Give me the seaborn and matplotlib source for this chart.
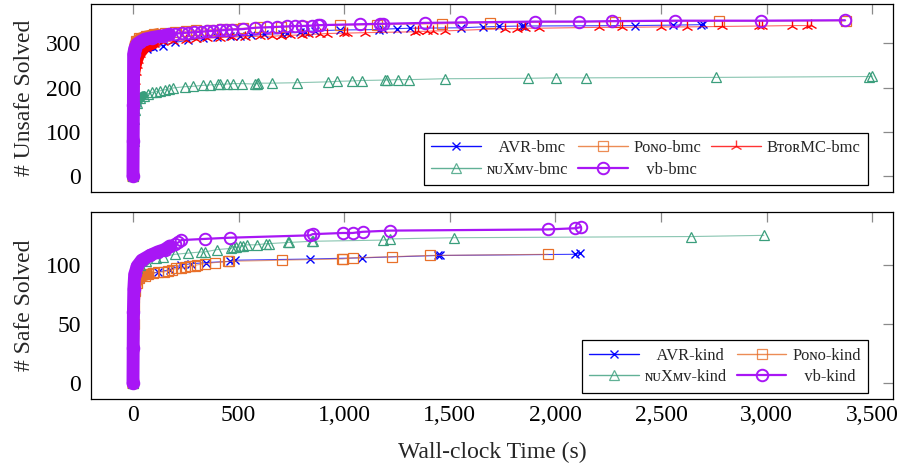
import matplotlib
matplotlib.use("Agg")
import matplotlib.pyplot as plt
import seaborn as sns
import pandas as pd
from matplotlib.lines import Line2D
from matplotlib.ticker import FuncFormatter

# ---------------- data (time in s, number solved) ----------------
# Unsafe (bmc)
avr_bmc_t = [0, 2, 4, 8, 15, 30, 65, 93, 141, 200, 260, 330, 400, 460, 506, 561, 620, 704, 727,
             790, 814, 862, 980, 1163, 1186, 1249, 1312, 1554, 1655, 1735, 1842, 1853, 2379, 2558,
             2690, 2698]
avr_bmc_n = [0, 150, 230, 262, 275, 283, 288, 291, 295, 302, 307, 311, 314, 316, 317, 318, 320, 322,
             323, 325, 326, 328, 330, 331, 332, 333, 334, 335, 337, 338, 339, 339, 340, 341, 342, 343]
avr_bmc_dense = 7

pono_bmc_t = [0, 1, 2, 4, 8, 15, 30, 60, 100, 150, 200, 250, 300, 365, 420, 470, 520, 600, 700,
              800, 980, 1154, 1462, 1691, 2281, 2774, 3375]
pono_bmc_n = [0, 80, 180, 260, 295, 305, 311, 316, 320, 323, 325, 327, 329, 331, 332, 333, 334, 336,
              337, 339, 341, 342, 344, 346, 349, 350, 351]
pono_bmc_dense = 8

btor_bmc_t = [0, 2, 5, 8, 12, 18, 25, 35, 60, 100, 140, 190, 250, 300, 350, 411, 470, 530, 600, 656,
              700, 743, 800, 830, 885, 917, 997, 1012, 1099, 1336, 1351, 1391, 1422, 1478, 1759,
              1819, 1857, 1920, 2205, 2316, 2501, 2624, 2790, 2963, 2980, 3122, 3193, 3209]
btor_bmc_n = [0, 100, 180, 215, 235, 250, 262, 275, 290, 298, 302, 305, 308, 310, 312, 313, 314, 315,
              316, 316, 317, 318, 319, 320, 321, 322, 323, 323, 324, 326, 327, 327, 328, 328, 333,
              333, 334, 334, 336, 336, 337, 337, 338, 339, 339, 340, 340, 341]
btor_bmc_dense = 9

nuxmv_bmc_t = [0, 3, 6, 10, 20, 32, 50, 70, 90, 110, 130, 150, 170, 189, 245, 285, 332, 364, 403,
               411, 443, 474, 514, 577, 585, 593, 656, 775, 925, 964, 1036, 1083, 1193, 1201, 1257,
               1309, 1475, 1870, 2003, 2147, 2758, 3485, 3501]
nuxmv_bmc_n = [0, 80, 130, 150, 165, 176, 182, 186, 189, 191, 193, 195, 197, 199, 202, 203, 205, 206,
               207, 207, 208, 209, 209, 208, 209, 210, 210, 211, 213, 214, 215, 216, 217, 217, 218,
               218, 220, 221, 222, 222, 223, 225, 226]
nuxmv_bmc_dense = 6

vb_bmc_t = [0, 1, 2, 3, 8, 18, 35, 55, 90, 141, 170, 200, 230, 260, 290, 320, 350, 380, 410, 440,
            470, 520, 577, 634, 680, 727, 767, 798, 846, 877, 885, 1075, 1170, 1186, 1383, 1554,
            1904, 2113, 2270, 2564, 2972, 3371]
vb_bmc_n = [0, 80, 160, 275, 288, 298, 304, 309, 313, 317, 320, 322, 323, 324, 325, 326, 327, 328,
            329, 330, 331, 332, 335, 336, 337, 338, 339, 339, 340, 341, 341, 343, 344, 344, 346, 347,
            349, 349, 350, 351, 351, 352]
vb_bmc_dense = 10

# Safe (kind)
avr_kind_t = [0, 2, 4, 8, 15, 30, 63, 119, 174, 229, 277, 348, 459, 482, 838, 1083, 1446, 1455,
              2094, 2118]
avr_kind_n = [0, 40, 65, 78, 85, 89, 92, 94, 96, 100, 101, 102, 103, 104, 105, 106, 108, 108, 109, 110]
avr_kind_dense = 6

pono_kind_t = [0, 2, 4, 6, 10, 17, 30, 55, 71, 95, 119, 145, 166, 186, 206, 225, 245, 270, 293, 301,
               340, 387, 450, 455, 704, 988, 993, 1040, 1225, 1404, 1965]
pono_kind_n = [0, 30, 50, 65, 78, 85, 89, 91, 92, 93, 94, 94, 95, 96, 97, 97, 98, 99, 99, 100, 101,
               102, 103, 103, 104, 105, 105, 106, 107, 108, 109]
pono_kind_dense = 8

nuxmv_kind_t = [0, 2, 5, 10, 20, 32, 60, 111, 142, 200, 260, 324, 340, 400, 466, 474, 490, 505, 520,
                538, 585, 632, 643, 735, 740, 846, 851, 1185, 1217, 1521, 2644, 2987]
nuxmv_kind_n = [0, 50, 80, 92, 97, 100, 103, 106, 107, 109, 110, 111, 111, 113, 114, 115, 115, 116,
                116, 117, 117, 118, 118, 119, 119, 120, 120, 121, 122, 123, 124, 125]
nuxmv_kind_dense = 6

vb_kind_t = [0, 1, 2, 4, 8, 20, 41, 80, 117, 150, 174, 200, 215, 229, 340, 457, 838, 850, 993, 1040,
             1088, 1217, 1965, 2094, 2121]
vb_kind_n = [0, 30, 60, 80, 92, 99, 104, 108, 111, 113, 116, 118, 119, 121, 122, 123, 125, 126, 127,
             127, 128, 129, 130, 131, 132]
vb_kind_dense = 10

x_ticks = [0, 500, 1000, 1500, 2000, 2500, 3000, 3500]
top_y_ticks = [0, 100, 200, 300]
bot_y_ticks = [0, 50, 100]

# ---------------- style ----------------
sns.set_style("white")
plt.rcParams["font.family"] = ["Liberation Serif", "DejaVu Serif"]
plt.rcParams["mathtext.fontset"] = "stix"

STY = {
    "avr": dict(color="#0000ff", marker="x", ms=6.0, mew=1.0, lw=0.8, alpha=0.75, wall=5.5,
                cap="round", filled=True),
    "pono": dict(color="#e8702a", marker="s", ms=7.5, mew=0.9, lw=0.8, alpha=0.6, wall=8.0,
                 cap="projecting", filled=False),
    "btor": dict(color="#ff0000", marker="2", ms=9.0, mew=1.0, lw=0.8, alpha=0.6, wall=7.0,
                 cap="round", filled=True),
    "nuxmv": dict(color="#3a9e7c", marker="^", ms=7.2, mew=0.9, lw=0.8, alpha=0.6, wall=6.5,
                  cap="round", filled=False),
    "vb": dict(color="#a816f5", marker="o", ms=8.3, mew=1.4, lw=1.6, alpha=1.0, wall=9.3,
               cap="round", filled=False),
}


def draw(ax, t, n, dense, key, z):
    st = STY[key]
    df = pd.DataFrame({"t": t, "n": n})
    c = st["color"]
    sns.lineplot(data=df.iloc[:dense + 1], x="t", y="n", ax=ax, color=c, linewidth=st["wall"],
                 sort=False, estimator=None, solid_capstyle=st["cap"], solid_joinstyle="round",
                 zorder=z, legend=False)
    sns.lineplot(data=df, x="t", y="n", ax=ax, color=c, linewidth=st["lw"], alpha=st["alpha"],
                 sort=False, estimator=None, zorder=z, legend=False)
    sns.lineplot(data=df, x="t", y="n", ax=ax, color=c, linewidth=0, marker=st["marker"],
                 markersize=st["ms"], markeredgewidth=st["mew"], markeredgecolor=c,
                 markerfacecolor=(c if st["filled"] else "none"), sort=False, estimator=None,
                 zorder=z + 0.5, legend=False)


def handle(key):
    st = STY[key]
    c = st["color"]
    return Line2D([0], [0], color=c, linewidth=max(st["lw"], 1.0), alpha=min(1, st["alpha"] + 0.2),
                  marker=st["marker"], markersize=st["ms"], markeredgewidth=st["mew"],
                  markeredgecolor=c, markerfacecolor=(c if st["filled"] else "none"))


fig = plt.figure(figsize=(9.02, 4.68), dpi=100)
ax1 = fig.add_axes([0.1006, 0.5904, 0.8898, 0.4004])
ax2 = fig.add_axes([0.1006, 0.1468, 0.8898, 0.4009])

draw(ax1, avr_bmc_t, avr_bmc_n, avr_bmc_dense, "avr", 2)
draw(ax1, pono_bmc_t, pono_bmc_n, pono_bmc_dense, "pono", 3)
draw(ax1, btor_bmc_t, btor_bmc_n, btor_bmc_dense, "btor", 4)
draw(ax1, nuxmv_bmc_t, nuxmv_bmc_n, nuxmv_bmc_dense, "nuxmv", 5)
draw(ax1, vb_bmc_t, vb_bmc_n, vb_bmc_dense, "vb", 6)

draw(ax2, avr_kind_t, avr_kind_n, avr_kind_dense, "avr", 2)
draw(ax2, pono_kind_t, pono_kind_n, pono_kind_dense, "pono", 3)
draw(ax2, nuxmv_kind_t, nuxmv_kind_n, nuxmv_kind_dense, "nuxmv", 5)
draw(ax2, vb_kind_t, vb_kind_n, vb_kind_dense, "vb", 6)

fmt = FuncFormatter(lambda v, p: f"{int(round(v)):,}")
for ax in (ax1, ax2):
    ax.set_xlim(-200, 3600)
    ax.set_xticks(x_ticks)
    ax.xaxis.set_major_formatter(fmt)
    ax.tick_params(direction="in", length=7.5, width=0.9, color="#8a8a8a", labelcolor="black",
                   top=True, right=True, labelsize=17)
    ax.tick_params(axis="y", pad=7)
    ax.tick_params(axis="x", pad=4)
    for sp in ax.spines.values():
        sp.set_color("black")
        sp.set_linewidth(0.9)
    ax.set_xlabel("")
ax1.set_ylim(-35, 388)
ax1.set_yticks(top_y_ticks)
ax1.tick_params(labelbottom=False)
ax2.set_ylim(-13.5, 145)
ax2.set_yticks(bot_y_ticks)

ax1.set_ylabel("# Unsafe Solved", fontsize=17)
ax2.set_ylabel("# Safe Solved", fontsize=17)
ax1.yaxis.set_label_coords(-0.069, 0.5)
ax2.yaxis.set_label_coords(-0.069, 0.5)
ax2.set_xlabel("Wall-clock Time (s)", fontsize=17)
ax2.xaxis.set_label_coords(0.5, -0.225)

leg_kw = dict(loc="lower right", bbox_to_anchor=(0.9685, 0.036), borderaxespad=0, fontsize=11.9,
              frameon=True, fancybox=False, framealpha=1, edgecolor="black", handlelength=3.0,
              handletextpad=0.35, columnspacing=0.6, labelspacing=0.32, borderpad=0.45, numpoints=1)

top_handles = [handle("avr"), handle("nuxmv"), handle("pono"), handle("vb"), handle("btor")]
top_labels = ["   AVR-bmc", "ɴᴜXᴍᴠ-bmc", "Pᴏɴᴏ-bmc", "   vb-bmc", "BᴛᴏʀMC-bmc"]
lg1 = ax1.legend(top_handles, top_labels, ncol=3, **leg_kw)
lg1.get_frame().set_linewidth(0.9)

bot_handles = [handle("avr"), handle("nuxmv"), handle("pono"), handle("vb")]
bot_labels = ["   AVR-kind", "ɴᴜXᴍᴠ-kind", "Pᴏɴᴏ-kind", "   vb-kind"]
lg2 = ax2.legend(bot_handles, bot_labels, ncol=2, **leg_kw)
lg2.get_frame().set_linewidth(0.9)

fig.savefig("out.png", dpi=100)
